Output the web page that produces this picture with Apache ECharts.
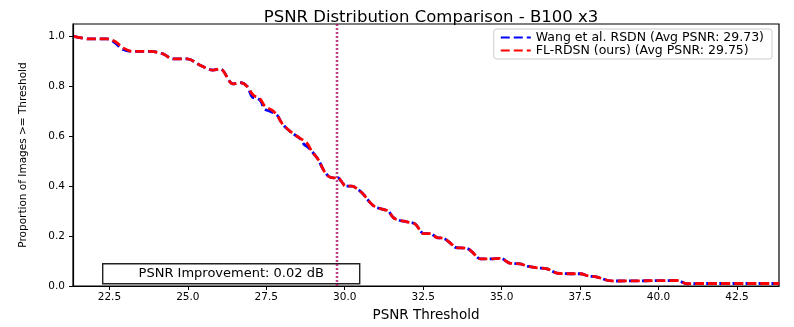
<!DOCTYPE html>
<html>
<head>
<meta charset="utf-8">
<script src="https://cdn.jsdelivr.net/npm/echarts@6/dist/echarts.min.js"></script>
<style>
html,body{margin:0;padding:0;background:#fff;}
#chart{width:794px;height:327px;}
</style>
</head>
<body>
<div id="chart"></div>
<script>
// ---- data ----
const titleText = 'PSNR Distribution Comparison - B100 x3';
const seriesNames = ['Wang et al. RSDN (Avg PSNR: 29.73)', 'FL-RDSN (ours) (Avg PSNR: 29.75)'];
const avgPsnr = [29.73, 29.75];
const improvementText = 'PSNR Improvement: 0.02 dB';

const thresholdsBlue = [21.37, 21.88, 22.42, 22.68, 22.90, 23.25, 23.80, 24.21, 24.53, 24.98, 25.39, 25.80, 26.03,
  26.44, 26.67, 26.89, 27.05, 27.21, 27.32, 27.44, 27.62, 27.84, 28.00, 28.21, 28.42, 28.58, 28.70, 28.84, 28.95,
  29.16, 29.32, 29.48, 29.64, 29.76, 29.95, 30.01, 30.23, 30.39, 30.60, 30.81, 30.97, 31.23, 31.39, 31.55, 31.71,
  31.98, 32.25, 32.41, 32.51, 32.72, 32.94, 33.15, 33.42, 33.52, 33.90, 34.05, 34.32, 34.64, 34.96, 35.28, 35.59,
  35.81, 36.13, 36.45, 36.76, 37.19, 37.51, 37.77, 38.04, 38.36, 38.57, 40.59, 40.91, 41.33, 43.85];
const proportionBlue = [1.0, 0.99, 0.99, 0.975, 0.95, 0.94, 0.94, 0.93, 0.91, 0.91, 0.885, 0.865, 0.87,
  0.81, 0.815, 0.80, 0.758, 0.752, 0.742, 0.71, 0.70, 0.685, 0.652, 0.625, 0.605, 0.59, 0.568, 0.555, 0.54,
  0.506, 0.466, 0.44, 0.433, 0.435, 0.41, 0.40, 0.40, 0.39, 0.367, 0.334, 0.317, 0.307, 0.30, 0.274, 0.264,
  0.257, 0.248, 0.221, 0.21, 0.21, 0.194, 0.191, 0.166, 0.155, 0.15, 0.138, 0.109, 0.109, 0.111, 0.091, 0.089,
  0.08, 0.073, 0.069, 0.052, 0.049, 0.049, 0.04, 0.036, 0.023, 0.02, 0.022, 0.009, 0.01, 0.01];

const thresholdsRed = [21.37, 21.88, 22.42, 22.68, 22.93, 23.25, 23.80, 24.21, 24.53, 24.98, 25.39, 25.80, 26.03,
  26.44, 26.67, 26.89, 27.08, 27.30, 27.46, 27.68, 27.84, 28.00, 28.21, 28.42, 28.58, 28.79, 28.95,
  29.16, 29.32, 29.48, 29.64, 29.76, 29.95, 30.01, 30.23, 30.39, 30.60, 30.81, 30.97, 31.23, 31.39, 31.55, 31.71,
  31.98, 32.25, 32.41, 32.51, 32.72, 32.94, 33.15, 33.42, 33.52, 33.90, 34.05, 34.32, 34.64, 34.96, 35.28, 35.59,
  35.81, 36.13, 36.45, 36.76, 37.19, 37.51, 37.77, 38.04, 38.36, 38.57, 40.59, 40.91, 41.33, 43.85];
const proportionRed = [1.0, 0.99, 0.99, 0.98, 0.955, 0.94, 0.94, 0.93, 0.91, 0.91, 0.885, 0.865, 0.87,
  0.81, 0.815, 0.80, 0.765, 0.75, 0.72, 0.705, 0.685, 0.652, 0.625, 0.605, 0.592, 0.573, 0.54,
  0.506, 0.466, 0.44, 0.433, 0.435, 0.41, 0.40, 0.40, 0.39, 0.367, 0.334, 0.317, 0.307, 0.30, 0.274, 0.264,
  0.257, 0.248, 0.221, 0.21, 0.21, 0.194, 0.191, 0.166, 0.155, 0.15, 0.138, 0.109, 0.109, 0.111, 0.091, 0.089,
  0.08, 0.073, 0.069, 0.052, 0.049, 0.049, 0.04, 0.036, 0.023, 0.02, 0.022, 0.009, 0.01, 0.01];

const xTicks = [22.5, 25.0, 27.5, 30.0, 32.5, 35.0, 37.5, 40.0, 42.5];
const yTicks = [0.0, 0.2, 0.4, 0.6, 0.8, 1.0];
const xRange = [21.34, 43.84];
const yRange = [0, 1.05];

// ---- chart ----
const zip = (xs, ys) => xs.map((x, i) => [x, ys[i]]);
const FONT = 'DejaVu Sans';
const chart = echarts.init(document.getElementById('chart'), null, {renderer: 'canvas'});

function vline(x, color) {
  return {
    silent: true, symbol: ['none', 'none'], animation: false,
    label: {show: false},
    lineStyle: {type: [2, 2], color: color, width: 2.4, opacity: 0.5},
    data: [{xAxis: x}]
  };
}

const option = {
  animation: false,
  backgroundColor: '#fff',
  textStyle: {fontFamily: FONT},
  title: {
    text: titleText, left: 426, top: 4, textAlign: 'center',
    textStyle: {fontFamily: FONT, fontSize: 16.5, fontWeight: 'normal', color: '#000'}
  },
  legend: {
    orient: 'vertical', right: 22, top: 29,
    data: seriesNames,
    backgroundColor: '#fff', borderColor: '#ccc', borderWidth: 1, borderRadius: 3,
    padding: [2, 8, 2, 6], itemGap: 0, itemWidth: 30, itemHeight: 9,
    itemStyle: {opacity: 0},
    textStyle: {fontFamily: FONT, fontSize: 12.5, color: '#000', lineHeight: 13}
  },
  grid: {left: 73, right: 15, top: 24, bottom: 38, show: true, borderColor: '#000', borderWidth: 1.2, containLabel: false},
  xAxis: {
    type: 'value', min: xRange[0], max: xRange[1],
    name: 'PSNR Threshold', nameLocation: 'middle', nameGap: 22,
    nameTextStyle: {fontFamily: FONT, fontSize: 13.5, color: '#000'},
    axisLine: {show: true, lineStyle: {color: '#000', width: 1.2}},
    axisTick: {show: true, length: 4, lineStyle: {color: '#000'}, customValues: xTicks},
    axisLabel: {customValues: xTicks, formatter: v => v.toFixed(1), fontSize: 10.5, color: '#000', margin: 6, fontFamily: FONT},
    splitLine: {show: false}
  },
  yAxis: {
    type: 'value', min: yRange[0], max: yRange[1],
    name: 'Proportion of Images >= Threshold', nameLocation: 'middle', nameGap: 44,
    nameTextStyle: {fontFamily: FONT, fontSize: 10.5, color: '#000'},
    axisLine: {show: true, lineStyle: {color: '#000', width: 1.2}},
    axisTick: {show: true, length: 4, lineStyle: {color: '#000'}, customValues: yTicks},
    axisLabel: {customValues: yTicks, formatter: v => v.toFixed(1), fontSize: 10.5, color: '#000', margin: 8, fontFamily: FONT},
    splitLine: {show: false}
  },
  series: [
    {
      name: seriesNames[0], type: 'line', data: zip(thresholdsBlue, proportionBlue),
      symbol: 'none', smooth: 0.35, color: '#0000ff',
      lineStyle: {color: '#0000ff', width: 2.8, type: [9, 4]},
      markLine: vline(avgPsnr[0], '#0000ff'), z: 2
    },
    {
      name: seriesNames[1], type: 'line', data: zip(thresholdsRed, proportionRed),
      symbol: 'none', smooth: 0.35, color: '#ff0000',
      lineStyle: {color: '#ff0000', width: 2.8, type: [9, 4]},
      markLine: vline(avgPsnr[1], '#ff0000'), z: 3
    }
  ],
  graphic: [{
    type: 'group', left: 102, top: 263,
    children: [
      {type: 'rect', shape: {x: 0, y: 0, width: 257, height: 20}, style: {fill: '#fff', stroke: '#222', lineWidth: 1.4}},
      {type: 'text', x: 128.5, y: 10, style: {text: improvementText, fontFamily: FONT, fontSize: 13, fill: '#000', align: 'center', verticalAlign: 'middle'}}
    ]
  }]
};
chart.setOption(option);
</script>
</body>
</html>
